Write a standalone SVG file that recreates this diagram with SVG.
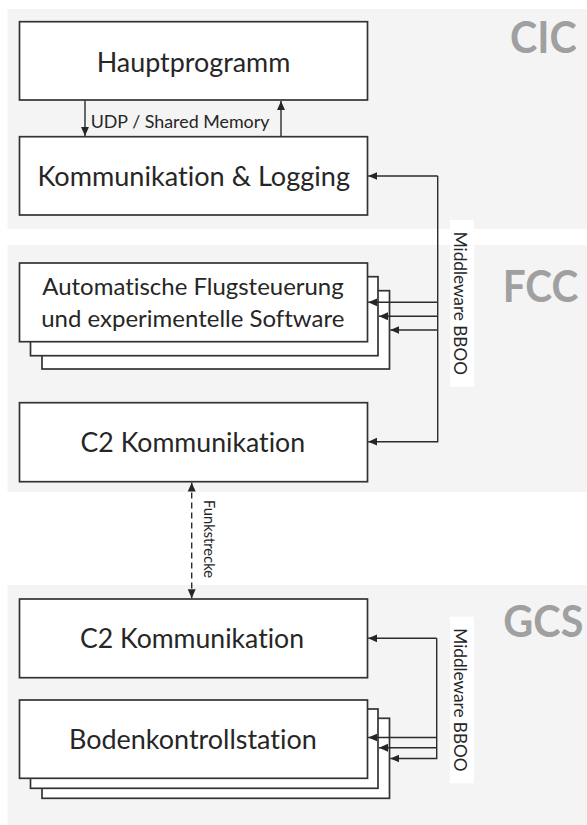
<svg xmlns="http://www.w3.org/2000/svg" width="587" height="825" viewBox="0 0 587 825">
<defs>
<marker id="ah" viewBox="0 0 10 10" refX="10" refY="5" markerWidth="9" markerHeight="9" markerUnits="userSpaceOnUse" orient="auto-start-reverse"><path d="M0,0.6 L10,5 L0,9.4 z" fill="#262626"/></marker>
<style>
text{font-variant-ligatures:none;font-feature-settings:"liga" 0,"clig" 0}
.sec{fill:#f4f4f4}
.box{fill:#fff;stroke:#333;stroke-width:1.7}
.lbl{font-family:Lato,"Open Sans","Liberation Sans",sans-serif;fill:#262626;text-anchor:middle}
.big{font-size:26px}
.mid{font-size:23.2px}
.sm{font-size:17.7px;text-anchor:start}
.vt{font-family:Lato,"Open Sans","Liberation Sans",sans-serif;fill:#262626;font-size:18px}
.title{font-family:Lato,"Open Sans","Liberation Sans",sans-serif;font-weight:bold;font-size:44px;fill:#a0a0a0}
.conn{fill:none;stroke:#2b2b2b;stroke-width:1.4}
.arr{marker-end:url(#ah)}
.dash{stroke-dasharray:6 4;marker-start:url(#ah);marker-end:url(#ah)}
.mwbg{fill:#fff}
</style>
</defs>

<g id="sections">
<rect class="sec" x="7.5" y="9" width="579.5" height="220"/>
<rect class="sec" x="7.5" y="245" width="579.5" height="247"/>
<rect class="sec" x="7.5" y="585" width="579.5" height="240"/>
<text class="title" x="510" y="53" textLength="66.7" lengthAdjust="spacingAndGlyphs">CIC</text>
<text class="title" x="502.7" y="301.5" textLength="75.6" lengthAdjust="spacingAndGlyphs">FCC</text>
<text class="title" x="503.3" y="636.7" textLength="80" lengthAdjust="spacingAndGlyphs">GCS</text>
</g>

<g id="hauptprogramm">
<rect class="box" x="19.5" y="21.7" width="348" height="78.3"/>
<text class="lbl big" x="193.5" y="71.7" textLength="193.6" lengthAdjust="spacingAndGlyphs">Hauptprogramm</text>
</g>

<g id="kommunikation-logging">
<rect class="box" x="19.5" y="136.7" width="348" height="78.3"/>
<text class="lbl big" x="193.7" y="186" textLength="312.6" lengthAdjust="spacingAndGlyphs">Kommunikation &amp; Logging</text>
</g>

<g id="flugsteuerung">
<rect class="box" x="42" y="290.7" width="347.5" height="78.3"/>
<rect class="box" x="30.5" y="276.7" width="347.5" height="79"/>
<rect class="box" x="19.5" y="263" width="348" height="78.7"/>
<text class="lbl mid" x="193" y="295" textLength="301.4" lengthAdjust="spacingAndGlyphs">Automatische Flugsteuerung</text>
<text class="lbl mid" x="192.8" y="326.7" textLength="303.2" lengthAdjust="spacingAndGlyphs">und experimentelle Software</text>
</g>

<g id="c2-fcc">
<rect class="box" x="19.5" y="402.7" width="348" height="79"/>
<text class="lbl big" x="192.8" y="451.7" textLength="224.5" lengthAdjust="spacingAndGlyphs">C2 Kommunikation</text>
</g>

<g id="c2-gcs">
<rect class="box" x="19.5" y="599" width="348" height="78.7"/>
<text class="lbl big" x="192" y="648.3" textLength="224" lengthAdjust="spacingAndGlyphs">C2 Kommunikation</text>
</g>

<g id="bodenkontrollstation">
<rect class="box" x="42" y="718.3" width="347.5" height="80"/>
<rect class="box" x="30.5" y="709" width="347.5" height="79.3"/>
<rect class="box" x="19.5" y="700" width="348" height="78.3"/>
<text class="lbl big" x="192.9" y="749.3" textLength="247.7" lengthAdjust="spacingAndGlyphs">Bodenkontrollstation</text>
</g>

<g id="connectors">
<path class="conn arr" d="M85,100.8 V136"/>
<path class="conn arr" d="M281,136 V101"/>
<text class="lbl sm" x="90.7" y="127.7" textLength="178.7" lengthAdjust="spacingAndGlyphs">UDP / Shared Memory</text>

<path class="conn arr" d="M437.7,176 V441.7 H368.2"/>
<path class="conn arr" d="M437.7,176 H368.2"/>
<path class="conn arr" d="M437.7,302.3 H368.2"/>
<path class="conn arr" d="M437.7,316.3 H379"/>
<path class="conn arr" d="M437.7,330 H390.3"/>
<rect class="mwbg" x="450" y="220" width="24" height="166.7"/>
<text class="vt" transform="translate(454.3,231.7) rotate(90)" textLength="143.3" lengthAdjust="spacingAndGlyphs">Middleware BBOO</text>

<path class="conn dash" d="M191.7,482.6 V598.2"/>
<text class="vt" style="font-size:14.4px" transform="translate(203.5,500) rotate(90)" textLength="78" lengthAdjust="spacingAndGlyphs">Funkstrecke</text>

<path class="conn arr" d="M436.7,638.3 H368.2"/>
<path class="conn arr" d="M436.7,638.3 V758.5 H390.3"/>
<path class="conn arr" d="M436.7,737.5 H368.2"/>
<path class="conn arr" d="M436.7,747.7 H379"/>
<rect class="mwbg" x="450" y="616.7" width="24" height="166.6"/>
<text class="vt" transform="translate(454.3,628.3) rotate(90)" textLength="143.3" lengthAdjust="spacingAndGlyphs">Middleware BBOO</text>
</g>
</svg>
